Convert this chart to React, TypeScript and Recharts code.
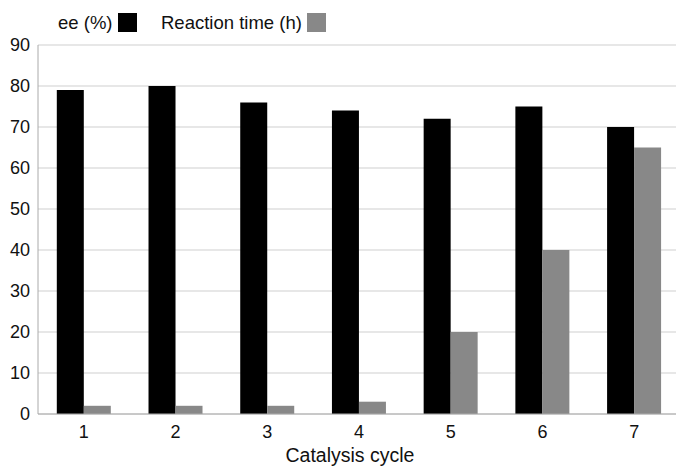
import React from "react";
import { BarChart, Bar, XAxis, YAxis, CartesianGrid, Label } from "recharts";

const cycles = ["1", "2", "3", "4", "5", "6", "7"];
const eeValues = [79, 80, 76, 74, 72, 75, 70];
const timeValues = [2, 2, 2, 3, 20, 40, 65];
const yTicks = [0, 10, 20, 30, 40, 50, 60, 70, 80, 90];
const seriesNames = ["ee (%)", "Reaction time (h)"];
const seriesColors = ["#000000", "#888888"];
const legendLeft = [58, 161];

const data = cycles.map((c, i) => ({ cycle: c, ee: eeValues[i], time: timeValues[i] }));

const FONT = "'Liberation Sans', Arial, Helvetica, sans-serif";

export default function App() {
  return (
    <div style={{ position: "absolute", left: 0, top: 0, width: 676, height: 468, overflow: "hidden", background: "#fff" }}>
      {seriesNames.map((n, i) => (
        <div
          key={n}
          style={{
            position: "absolute",
            left: legendLeft[i],
            top: 13,
            height: 19,
            lineHeight: "19px",
            display: "flex",
            alignItems: "center",
            whiteSpace: "nowrap",
            fontFamily: FONT,
            fontSize: 18.5,
            color: "#111",
            zIndex: 2,
          }}
        >
          <span>{n}</span>
          <span style={{ display: "inline-block", width: 19, height: 19, background: seriesColors[i], marginLeft: 5 }} />
        </div>
      ))}
      <BarChart
        width={700}
        height={468}
        data={data}
        margin={{ top: 45, right: 20, left: 0, bottom: 0 }}
        barCategoryGap="20.5%"
        barGap={0}
      >
        <CartesianGrid vertical={false} stroke="#cfcfcf" />
        <XAxis
          dataKey="cycle"
          height={54}
          axisLine={{ stroke: "#aaaaaa" }}
          tickLine={false}
          tickSize={6}
          tickMargin={5}
          tick={{ fill: "#111", fontSize: 18, fontFamily: FONT }}
        >
          <Label
            value="Catalysis cycle"
            position="insideBottom"
            offset={6}
            dx={-9}
            style={{ fill: "#111", fontSize: 19.5, fontFamily: FONT }}
          />
        </XAxis>
        <YAxis
          width={38}
          domain={[0, 90]}
          ticks={yTicks}
          axisLine={{ stroke: "#aaaaaa" }}
          tickLine={false}
          tick={{ fill: "#111", fontSize: 18, fontFamily: FONT }}
        />
        <Bar dataKey="ee" name={seriesNames[0]} fill={seriesColors[0]} isAnimationActive={false} />
        <Bar dataKey="time" name={seriesNames[1]} fill={seriesColors[1]} isAnimationActive={false} />
      </BarChart>
    </div>
  );
}
